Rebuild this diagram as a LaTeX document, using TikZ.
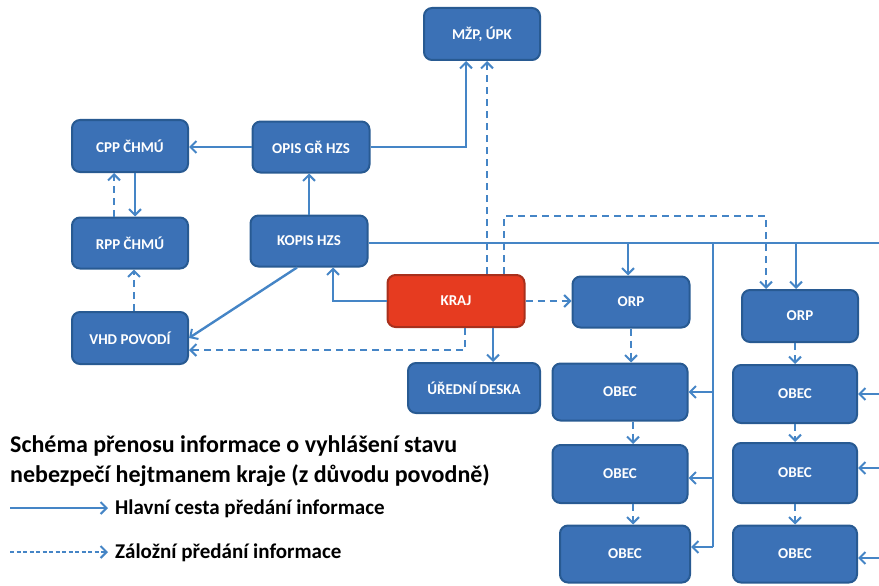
\documentclass[tikz,border=0pt]{standalone}
\usepackage{fontspec}
\setmainfont{Carlito}
\usetikzlibrary{arrows.meta}
\definecolor{boxblue}{HTML}{3B71B6}
\definecolor{boxedge}{HTML}{285A92}
\definecolor{linkblue}{HTML}{4585C6}
\definecolor{krajred}{HTML}{E63B20}
\definecolor{krajedge}{HTML}{A8301C}
\begin{document}
\begin{tikzpicture}[x=1pt,y=-1pt,
  box/.style={rounded corners=8pt,fill=boxblue,draw=boxedge,line width=2pt,text=white,
    font=\bfseries\fontsize{15}{17}\selectfont,inner sep=0pt},
  redbox/.style={box,fill=krajred,draw=krajedge},
  main/.style={draw=linkblue,line width=2.4pt},
  backup/.style={draw=linkblue,line width=2.4pt,dash pattern=on 7pt off 5pt},
  tip/.style={-{Straight Barb[length=6pt,width=12pt,line width=2pt]}},
  legend/.style={font=\bfseries\fontsize{21}{24}\selectfont,anchor=base west,inner sep=0pt},
  title/.style={font=\bfseries\fontsize{24}{28}\selectfont,anchor=base west,inner sep=0pt}]
\useasboundingbox (0,0) rectangle (879,586);
% nodes
\node[box,minimum width=116pt,minimum height=52pt] (mzp) at (482,34) {MŽP, ÚPK};
\node[box,minimum width=116pt,minimum height=52pt] (cpp) at (130,146) {CPP ČHMÚ};
\node[box,minimum width=117pt,minimum height=51pt] (opis) at (311,147) {OPIS GŘ HZS};
\node[box,minimum width=116pt,minimum height=51pt] (rpp) at (130,243) {RPP ČHMÚ};
\node[box,minimum width=117pt,minimum height=51pt] (kopis) at (309,241) {KOPIS HZS};
\node[box,minimum width=116pt,minimum height=52pt] (vhd) at (130,338) {VHD POVODÍ};
\node[redbox,minimum width=137pt,minimum height=52pt] (kraj) at (456,301) {KRAJ};
\node[box,minimum width=132pt,minimum height=50pt] (deska) at (474,388) {ÚŘEDNÍ DESKA};
\node[box,minimum width=117pt,minimum height=51pt] (orpL) at (631,302) {ORP};
\node[box,minimum width=116pt,minimum height=52pt] (orpR) at (800,316) {ORP};
\node[box,minimum width=135pt,minimum height=57pt] (obL1) at (620,392) {OBEC};
\node[box,minimum width=135pt,minimum height=58pt] (obL2) at (620,474) {OBEC};
\node[box,minimum width=130pt,minimum height=57pt] (obL3) at (625,554) {OBEC};
\node[box,minimum width=124pt,minimum height=58pt] (obR1) at (795,394) {OBEC};
\node[box,minimum width=124pt,minimum height=60pt] (obR2) at (795,473) {OBEC};
\node[box,minimum width=124pt,minimum height=57pt] (obR3) at (795,554) {OBEC};
% helper coordinates
\coordinate (busend) at (879,243);
\coordinate (bORPL) at (628,243);
\coordinate (bvert) at (713,243);
\coordinate (bvertend) at (713,547);
\coordinate (bORPR) at (796,243);
\coordinate (dashturn) at (766,216);
% connectors
\draw[main,tip] (opis.west) -- (opis.west -| cpp.east);
\draw[main,tip] (opis.east) -| ([xshift=-16pt]mzp.south);
\draw[main,tip] (kopis.north) -- (kopis.north |- opis.south);
\draw[main,tip] ([xshift=5pt]cpp.south) -- ([xshift=5pt]rpp.north);
\draw[backup,tip] ([xshift=-16pt]rpp.north) -- ([xshift=-16pt]cpp.south);
\draw[backup,tip] ([xshift=4pt]vhd.north) -- ([xshift=4pt]rpp.south);
\draw[main,tip] ([xshift=-12pt]kopis.south) -- (vhd.east);
\draw[main,tip] (kraj.west) -| ([xshift=24pt]kopis.south);
\draw[backup,tip] ([xshift=9pt]kraj.south) |- ([yshift=-12pt]vhd.east);
\draw[main,tip] ([xshift=37pt]kraj.south) -- ([xshift=37pt]kraj.south |- deska.north);
\draw[backup,tip] (kraj.east) -- (kraj.east -| orpL.west);
\draw[backup,tip] ([xshift=31pt]kraj.north) -- ([xshift=31pt]kraj.north |- mzp.south);
\draw[backup,tip] ([xshift=48pt]kraj.north) |- (dashturn) -- (dashturn |- orpR.north);
% bus
\draw[main] (kopis.east |- busend) -- (busend);
\draw[main,tip] (bORPL) -- (bORPL |- orpL.north);
\draw[main,tip] (bORPR) -- (bORPR |- orpR.north);
\draw[main] (bvert) -- (bvertend);
\draw[main,tip] (bvert |- obL1.east) -- (obL1.east);
\draw[main,tip] ([yshift=-4pt]bvert |- obL2.east) -- ([yshift=-4pt]obL2.east);
\draw[main,tip] (bvertend) -- (bvertend -| obL3.east);
\draw[main,tip] (busend |- obR1.east) -- (obR1.east);
\draw[main,tip] ([yshift=5pt]busend |- obR2.east) -- ([yshift=5pt]obR2.east);
\draw[main,tip] ([yshift=-4pt]busend |- obR3.east) -- ([yshift=-4pt]obR3.east);
% backup chains
\draw[backup,tip] (orpL.south) -- (orpL.south |- obL1.north);
\draw[backup,tip] ([xshift=13pt]obL1.south) -- ([xshift=13pt]obL1.south |- obL2.north);
\draw[backup,tip] ([xshift=13pt]obL2.south) -- ([xshift=8pt]obL3.north);
\draw[backup,tip] (orpR.south -| obR1.north) -- (obR1.north);
\draw[backup,tip] (obR1.south) -- (obR2.north);
\draw[backup,tip] (obR2.south) -- (obR3.north);
% legend
\node[title] (t1) at (10,452) {Schéma přenosu informace o vyhlášení stavu};
\node[title] (t2) at (10,482) {nebezpečí hejtmanem kraje (z důvodu povodně)};
\coordinate (la) at (10,508);
\coordinate (lb) at (108,508);
\coordinate (lc) at (10,552);
\coordinate (ld) at (108,552);
\draw[main,line width=1.8pt,tip] (la) -- (lb);
\draw[backup,line width=1.8pt,dash pattern=on 4pt off 2.5pt,tip] (lc) -- (ld);
\node[legend] (l1) at (115,514) {Hlavní cesta předání informace};
\node[legend] (l2) at (115,558) {Záložní předání informace};
\end{tikzpicture}
\end{document}
